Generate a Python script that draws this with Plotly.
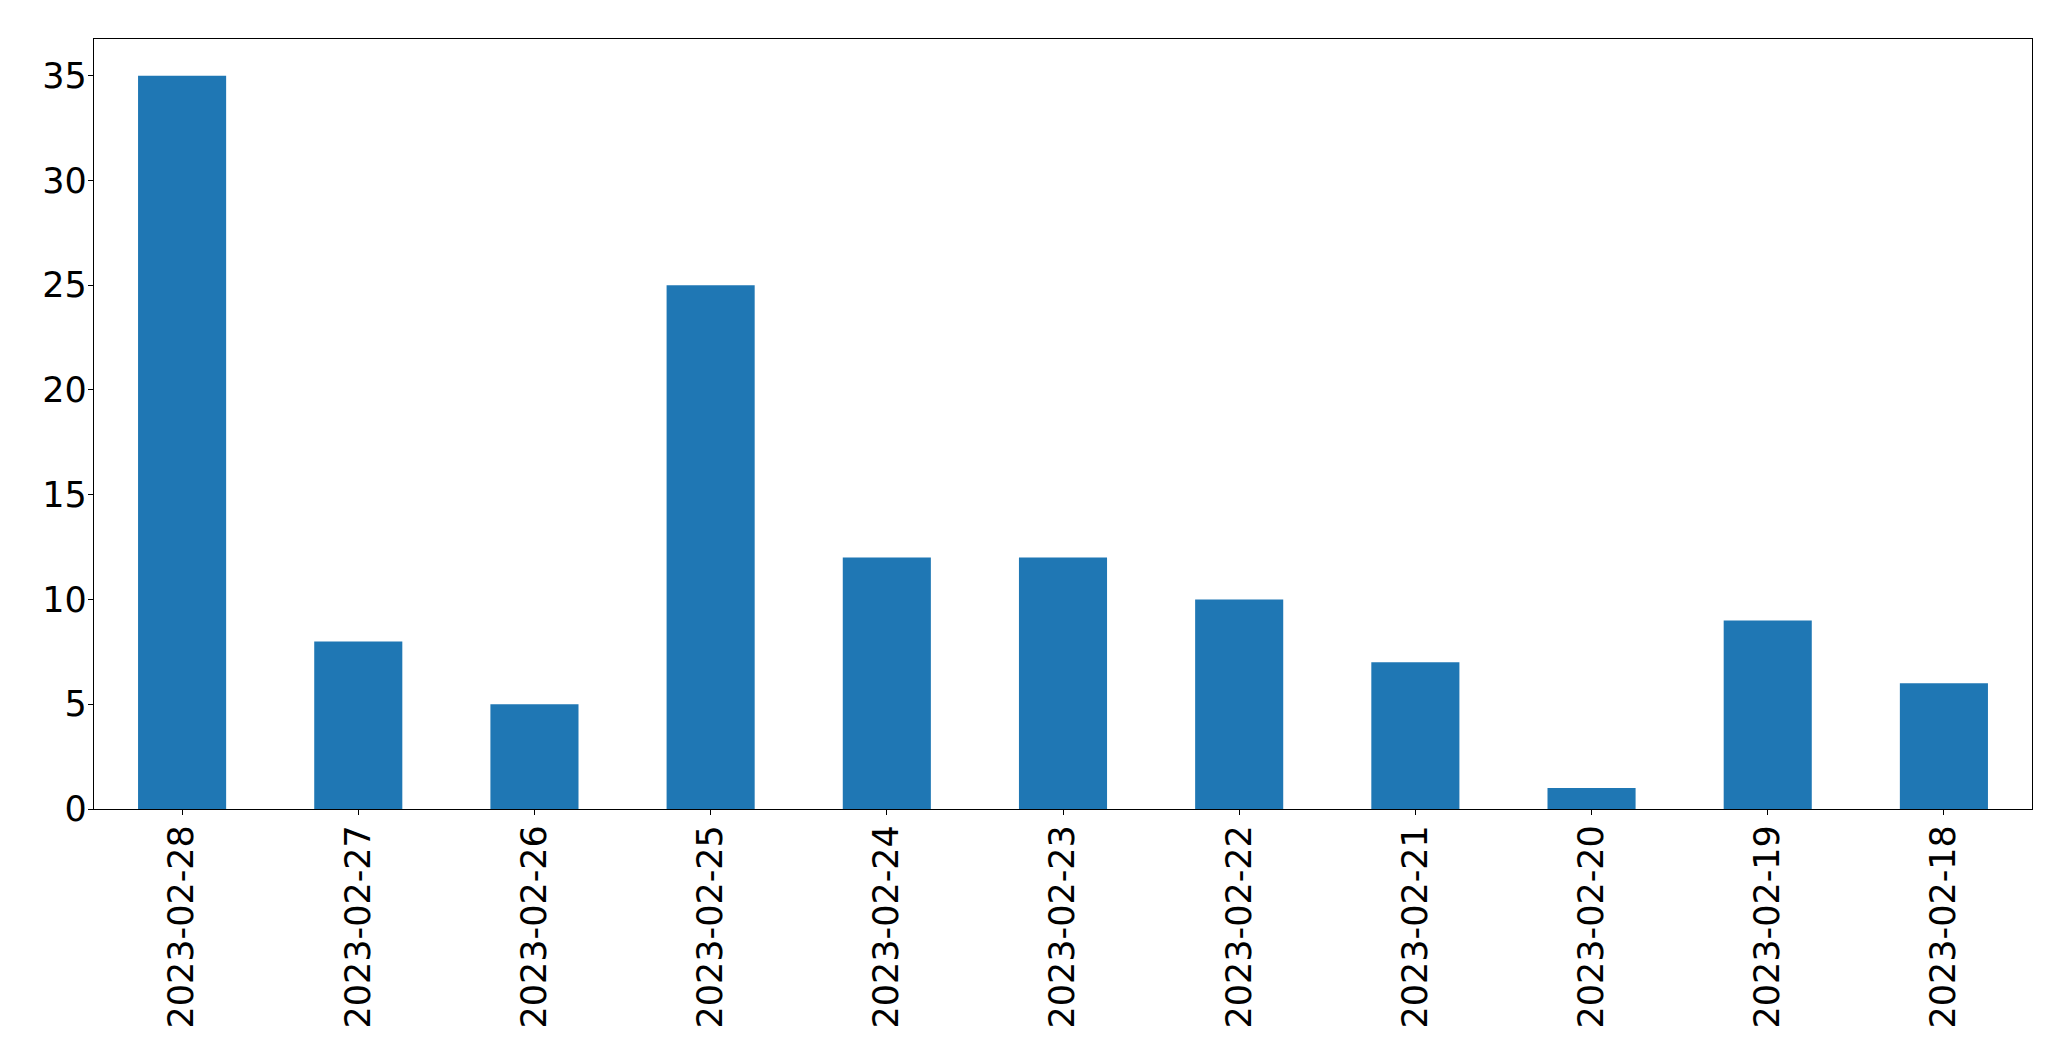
import plotly.graph_objects as go

dates = ["2023-02-28", "2023-02-27", "2023-02-26", "2023-02-25", "2023-02-24",
         "2023-02-23", "2023-02-22", "2023-02-21", "2023-02-20", "2023-02-19",
         "2023-02-18"]
counts = [35, 8, 5, 25, 12, 12, 10, 7, 1, 9, 6]
y_ticks = [0, 5, 10, 15, 20, 25, 30, 35]

fig = go.Figure(go.Bar(x=dates, y=counts, width=0.5, marker=dict(color="#1f77b4", line=dict(width=0))))

# page body has an 8px margin, so the figure is drawn 8px in from the window edge
fig.update_layout(
    width=2055, height=1045,
    margin=dict(l=86, r=31, t=31, b=244, autoexpand=False),
    paper_bgcolor="white", plot_bgcolor="white",
    font=dict(family="DejaVu Sans", size=35, color="black"),
    showlegend=False,
    bargap=0.5,
)
fig.update_xaxes(
    type="category", range=[-0.5, len(dates) - 0.5], tickangle=-90,
    showline=True, linecolor="black", linewidth=1.3, mirror=True,
    ticks="outside", ticklen=5, tickwidth=1.3, tickcolor="black",
    showgrid=False, zeroline=False, ticklabelstandoff=-4,
)
fig.update_yaxes(
    range=[0, 36.75], tickvals=y_ticks,
    showline=True, linecolor="black", linewidth=1.3, mirror=True,
    ticks="outside", ticklen=5, tickwidth=1.3, tickcolor="black",
    showgrid=False, zeroline=False, ticklabelstandoff=-6,
)

fig.write_html("out.html")
